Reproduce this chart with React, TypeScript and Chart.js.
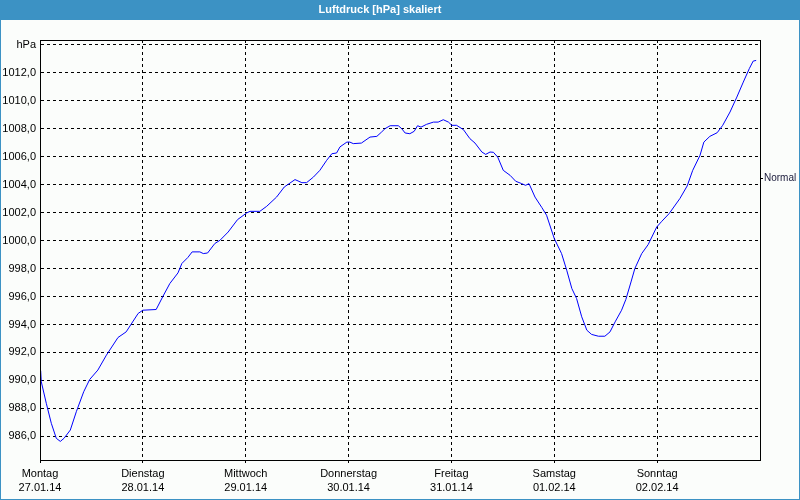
import React, { useEffect, useRef } from "react";
import { Chart, registerables } from "chart.js";

Chart.register(...registerables);

// Hours since Monday 27.01.14 00:00
const hours = [
  0.16, 0.3, 1.47, 2.64, 3.8, 4.74, 5.6, 7.07, 8.47, 10.2, 11.6, 13.5, 15.5, 18.2, 20.1, 22.9,
  24.0, 27.1, 28.7, 30.3, 32.2, 33.1, 34.5, 35.5, 37.3, 38.1, 39.1, 40.8, 42.0, 43.9, 46.1,
  48.2, 49.0, 51.3, 52.9, 55.2, 57.0, 57.9, 59.5, 61.1, 62.2, 63.8, 65.3, 66.9, 68.1, 69.2,
  70.0, 71.6, 72.3, 73.1, 75.0, 77.0, 78.6, 79.7, 80.5, 81.7, 83.6, 84.4, 85.2, 86.3, 87.3,
  88.1, 88.9, 90.2, 91.8, 92.9, 94.1, 95.3, 96.1, 97.2, 98.8, 100.3, 101.5, 103.1, 104.0,
  105.0, 105.8, 106.8, 108.1, 109.7, 111.0, 112.4, 113.3, 114.1, 115.5, 117.1, 118.2, 120.0,
  121.7, 122.9, 124.1, 125.2, 126.4, 127.6, 128.7, 130.3, 131.8, 133.0, 134.2, 135.7, 136.7,
  137.9, 138.8, 140.4, 141.9, 143.9, 145.1, 146.8, 149.3, 151.0, 152.3, 154.0, 154.9, 156.3,
  158.0, 159.3, 161.0, 162.6, 164.1, 165.5, 166.4, 167.1,
];

const pressure = [
  990.7, 989.9, 988.36, 986.93, 985.86, 985.64, 985.86, 986.45, 987.76, 989.19, 990.07, 990.74,
  991.81, 993.07, 993.47, 994.79,
  995.02, 995.07, 996.02, 996.93, 997.69, 998.36, 998.79, 999.19, 999.19, 999.07, 999.11,
  999.79, 1000.02, 1000.61, 1001.5,
  1001.97, 1002.09, 1002.09, 1002.45, 1003.11, 1003.83, 1004.02, 1004.36, 1004.14, 1004.14,
  1004.54, 1005.02, 1005.74, 1006.21, 1006.26,
  1006.7, 1007.04, 1007.04, 1006.93, 1006.97, 1007.4, 1007.45, 1007.76, 1008.0, 1008.21,
  1008.21, 1008.0, 1007.69, 1007.64, 1007.81,
  1008.21, 1008.11, 1008.31, 1008.47, 1008.47, 1008.64, 1008.47, 1008.24, 1008.24, 1007.93,
  1007.29, 1006.97, 1006.33, 1006.16,
  1006.33, 1006.31, 1005.97, 1005.02, 1004.66, 1004.24, 1004.07, 1003.95, 1004.07, 1003.11,
  1002.36, 1001.81, 1000.14,
  999.07, 997.88, 996.57, 995.86, 994.55, 993.59, 993.29, 993.16, 993.16, 993.47, 994.19,
  995.02, 995.79,
  997.04, 998.0, 999.07, 999.71, 1000.97, 1001.38, 1001.93, 1003.0, 1003.9, 1005.02, 1006.09,
  1007.04, 1007.45,
  1007.71, 1008.24, 1009.19, 1010.26, 1011.33, 1012.29, 1012.83, 1012.88,
];

const dayNames = ["Montag", "Dienstag", "Mittwoch", "Donnerstag", "Freitag", "Samstag", "Sonntag"];
const dayDates = ["27.01.14", "28.01.14", "29.01.14", "30.01.14", "31.01.14", "01.02.14", "02.02.14"];
const xTickHours = [0, 24, 48, 72, 96, 120, 144];
const yTickValues = [986, 988, 990, 992, 994, 996, 998, 1000, 1002, 1004, 1006, 1008, 1010, 1012, 1014];
const yUnitTick = 1014;
const yUnitLabel = "hPa";
const normalValue = 1004.5;
const normalLabel = "Normal";
const titleText = "Luftdruck [hPa] skaliert";

const FONT = "'Liberation Sans', Tahoma, Arial, sans-serif";
const BLUE = "#3c92c4";

const framePlugin = {
  id: "frame",
  beforeDraw(chart: any) {
    const { ctx, width, height } = chart;
    ctx.save();
    ctx.fillStyle = "#fbfdfb";
    ctx.fillRect(0, 0, width, height);
    ctx.fillStyle = BLUE;
    ctx.fillRect(0, 0, width, 20);
    ctx.restore();
  },
  afterDraw(chart: any) {
    const { ctx, chartArea, width, height } = chart;
    const yScale = chart.scales.y;
    ctx.save();
    ctx.strokeStyle = "#000";
    ctx.lineWidth = 1;
    ctx.setLineDash([]);
    ctx.strokeRect(chartArea.left + 0.5, chartArea.top + 0.5, chartArea.right - chartArea.left, chartArea.bottom - chartArea.top);
    const ny = Math.round(yScale.getPixelForValue(normalValue)) + 0.5;
    ctx.beginPath();
    ctx.moveTo(chartArea.right, ny);
    ctx.lineTo(chartArea.right + 3, ny);
    ctx.stroke();
    ctx.fillStyle = "#1a1a3a";
    ctx.font = `10px ${FONT}`;
    ctx.textBaseline = "middle";
    ctx.textAlign = "left";
    ctx.fillText(normalLabel, chartArea.right + 4, ny);
    ctx.strokeStyle = BLUE;
    ctx.strokeRect(0.5, 0.5, width - 1, height - 1);
    ctx.restore();
  },
};

export default function App() {
  const ref = useRef<HTMLCanvasElement>(null);
  useEffect(() => {
    if (!ref.current) return;
    const chart = new Chart(ref.current, {
      type: "line",
      data: {
        datasets: [
          {
            data: hours.map((h, i) => ({ x: h, y: pressure[i] })),
            borderColor: "#0000ff",
            borderWidth: 1,
            pointRadius: 0,
            tension: 0,
            fill: false,
          },
        ],
      },
      options: {
        animation: false,
        responsive: false,
        layout: { padding: { left: 0, right: 40, top: 0, bottom: 0 } },
        plugins: {
          legend: { display: false },
          tooltip: { enabled: false },
          title: {
            display: true,
            text: titleText,
            color: "#ffffff",
            font: { family: FONT, size: 11, weight: "bold", lineHeight: 1.2 },
            padding: { top: 3.4, bottom: 23.4 },
          },
        },
        scales: {
          x: {
            type: "linear",
            min: 0,
            max: 168,
            afterBuildTicks: (s: any) => {
              s.ticks = xTickHours.map((v) => ({ value: v }));
            },
            afterFit: (s: any) => {
              s.height = 40;
            },
            ticks: {
              autoSkip: false,
              maxRotation: 0,
              padding: 3,
              color: "#000",
              font: { family: FONT, size: 11, lineHeight: 1.36 },
              callback: (v: any) => {
                const i = Math.round(Number(v) / 24);
                return [dayNames[i], dayDates[i]];
              },
            },
            grid: {
              color: "#000",
              lineWidth: 1,
              drawTicks: true,
              tickLength: 3,
              tickColor: "#000",
              tickBorderDash: [3, 3],
            },
            border: { display: true, color: "#000", dash: [3, 3] },
          },
          y: {
            type: "linear",
            min: 984.31,
            max: 1014.34,
            afterBuildTicks: (s: any) => {
              s.ticks = yTickValues.map((v) => ({ value: v }));
            },
            afterFit: (s: any) => {
              s.width = 40;
            },
            ticks: {
              autoSkip: false,
              padding: 4,
              color: "#000",
              font: { family: FONT, size: 11 },
              callback: (v: any) =>
                Number(v) === yUnitTick ? yUnitLabel : Number(v).toFixed(1).replace(".", ","),
            },
            grid: { color: "#000", lineWidth: 1, drawTicks: false },
            border: { display: true, color: "#000", dash: [3, 3] },
          },
        },
      } as any,
      plugins: [framePlugin],
    });
    return () => chart.destroy();
  }, []);
  return (
    <div style={{ position: "fixed", left: 0, top: 0, width: 800, height: 500 }}>
      <canvas ref={ref} width={800} height={500} style={{ width: 800, height: 500 }} />
    </div>
  );
}
